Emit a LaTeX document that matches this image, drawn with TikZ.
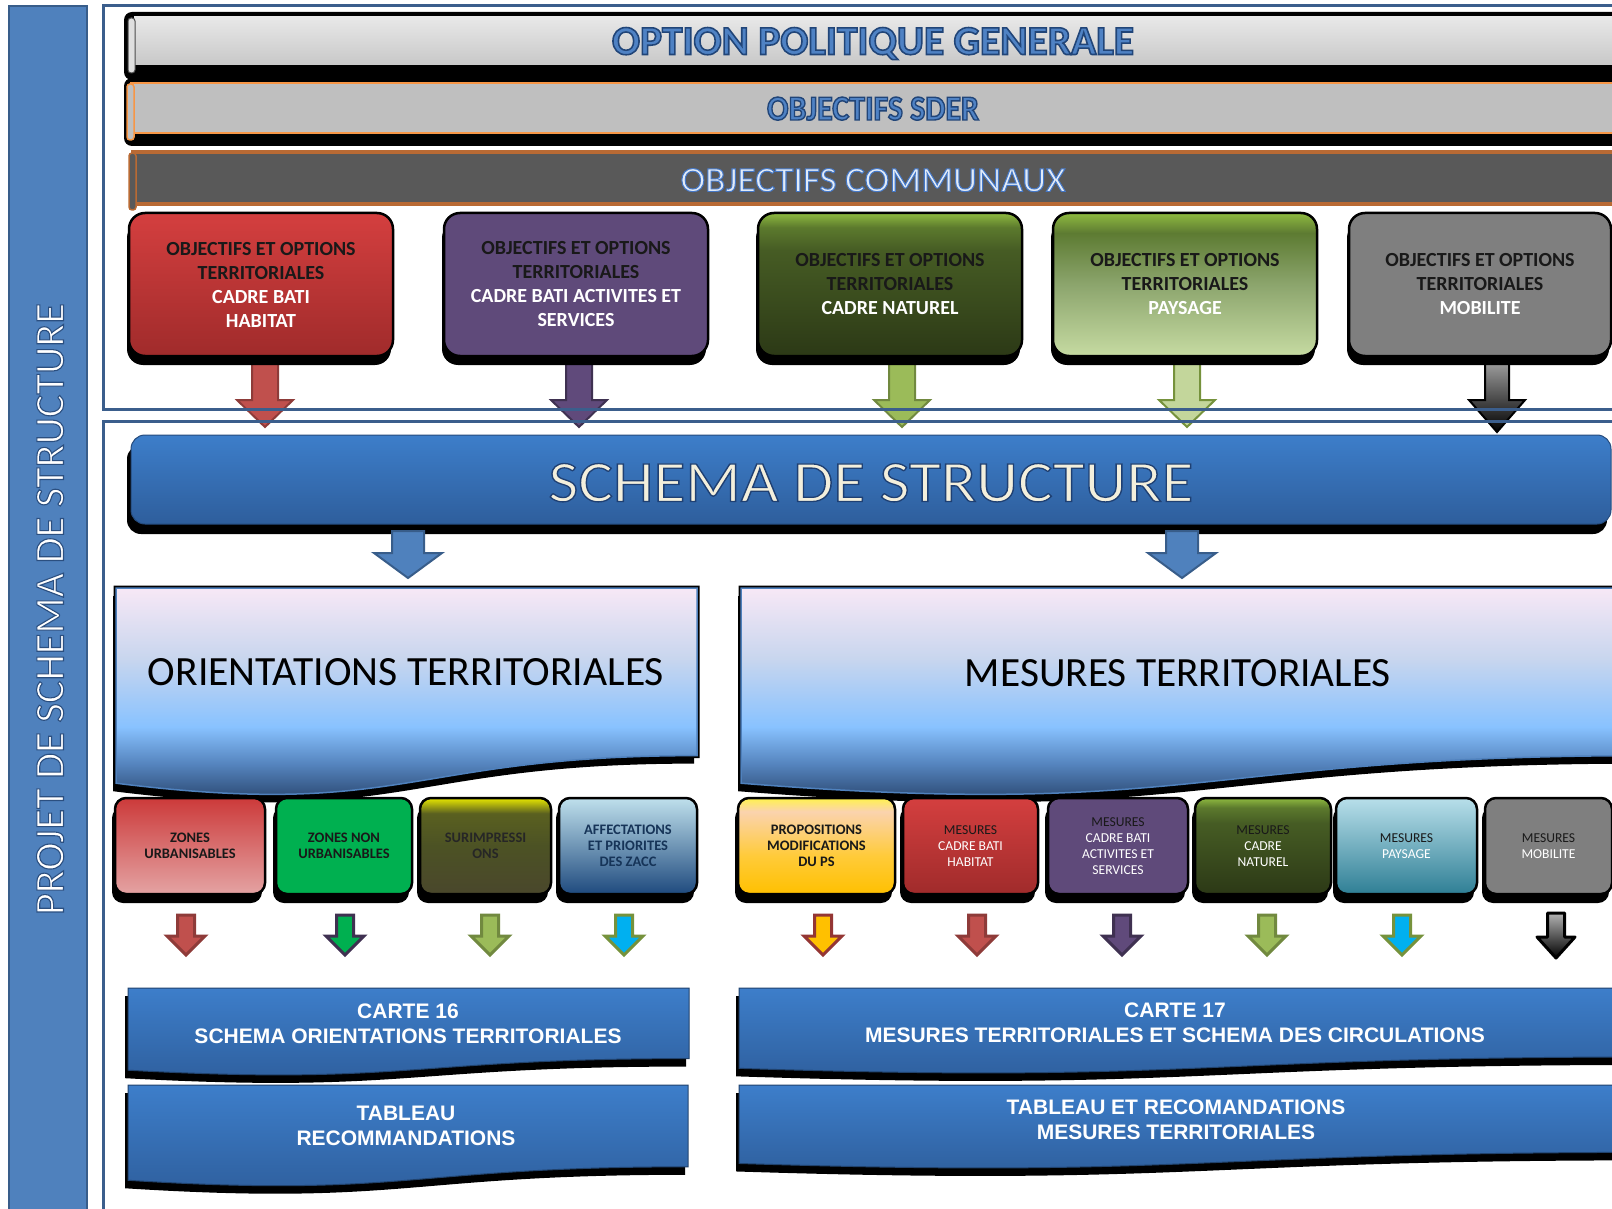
\documentclass[tikz,border=0pt]{standalone}
\usepackage{fontspec}
\usepackage{graphicx}
\setmainfont{Carlito}
\newfontfamily\arialf{Liberation Sans}
\usetikzlibrary{calc,shadows}

\definecolor{barblue}{HTML}{4F81BD}
\definecolor{barborder}{HTML}{385D8A}
\definecolor{frameblue}{HTML}{3B5E8C}
\definecolor{txtblue}{HTML}{4F82C4}
\definecolor{orangeb}{HTML}{F79646}
\definecolor{brownb}{HTML}{B96A34}
\definecolor{dgray}{HTML}{595959}
\definecolor{lgray}{HTML}{BFBFBF}
\definecolor{bandtop}{HTML}{E8E8E8}
\definecolor{bandbot}{HTML}{C8C8C8}
\definecolor{commtxt}{HTML}{E2EBF7}
\definecolor{cream}{HTML}{F3EFDC}
\definecolor{redtop}{HTML}{D43F3F}
\definecolor{redbot}{HTML}{A02B2B}
\definecolor{purp}{HTML}{5F4A7A}
\definecolor{grayb}{HTML}{7F7F7F}
\definecolor{zutop}{HTML}{CC3A3A}
\definecolor{zubot}{HTML}{E4A3A3}
\definecolor{zng}{HTML}{00B050}
\definecolor{aftop}{HTML}{BFE0EC}
\definecolor{afbot}{HTML}{1F4A7E}
\definecolor{paytop}{HTML}{B8DFEA}
\definecolor{paybot}{HTML}{2F7F95}
\definecolor{sstop}{HTML}{3D7ECA}
\definecolor{ssbot}{HTML}{2E5E9C}
\definecolor{arred}{HTML}{C0504D}
\definecolor{arredb}{HTML}{8E3B39}
\definecolor{arpurp}{HTML}{604A7B}
\definecolor{arpurpb}{HTML}{3F3151}
\definecolor{argreen}{HTML}{9BBB59}
\definecolor{argreenb}{HTML}{71893F}
\definecolor{arlgreen}{HTML}{C3D69B}
\definecolor{arlgreenb}{HTML}{76923C}
\definecolor{arcyan}{HTML}{00B0F0}
\definecolor{argold}{HTML}{FFC000}
\definecolor{argoldb}{HTML}{943634}
% custom shading colours
\definecolor{navyb}{HTML}{142848}
\definecolor{midb}{HTML}{5584BE}
\definecolor{skyb}{HTML}{88C2FF}
\definecolor{lavb}{HTML}{C9D6EE}
\definecolor{pinkb}{HTML}{F7E8F6}
\definecolor{dg1}{HTML}{8FBA40}
\definecolor{dg2}{HTML}{5C7A2D}
\definecolor{dg3}{HTML}{465C24}
\definecolor{dg4}{HTML}{2C3916}
\definecolor{lg2}{HTML}{5D7B32}
\definecolor{lg3}{HTML}{8CA56D}
\definecolor{lg4}{HTML}{C6DBA2}
\definecolor{sy1}{HTML}{E8E800}
\definecolor{sy2}{HTML}{5A6020}
\definecolor{sy3}{HTML}{4C5224}
\definecolor{sy4}{HTML}{4A472C}
\definecolor{ps1}{HTML}{FFF24D}
\definecolor{ps2}{HTML}{FBD3AE}
\definecolor{ps3}{HTML}{FFCB3A}
\definecolor{ps4}{HTML}{FFC000}

\pgfdeclareverticalshading{orientsh}{100bp}{color(0bp)=(navyb); color(25bp)=(navyb); color(37bp)=(midb); color(45bp)=(skyb); color(60bp)=(lavb); color(75bp)=(pinkb); color(100bp)=(pinkb)}
\pgfdeclareverticalshading{dgreensh}{100bp}{color(0bp)=(dg4); color(25bp)=(dg4); color(62bp)=(dg3); color(70bp)=(dg2); color(75bp)=(dg1); color(100bp)=(dg1)}
\pgfdeclareverticalshading{lgreensh}{100bp}{color(0bp)=(lg4); color(25bp)=(lg4); color(50bp)=(lg3); color(68bp)=(lg2); color(75bp)=(dg1); color(100bp)=(dg1)}
\pgfdeclareverticalshading{surimpsh}{100bp}{color(0bp)=(sy4); color(25bp)=(sy4); color(50bp)=(sy3); color(67bp)=(sy2); color(75bp)=(sy1); color(100bp)=(sy1)}
\pgfdeclareverticalshading{propsh}{100bp}{color(0bp)=(ps4); color(25bp)=(ps4); color(45bp)=(ps3); color(68bp)=(ps2); color(75bp)=(ps1); color(100bp)=(ps1)}

% outlined text (fill in current colour, stroke colour #1 as "r g b", width #2)
\newcommand\outl[3]{\special{pdf:literal direct #1 RG #2 w 2 Tr}#3\special{pdf:literal direct 0 Tr}}

% block arrow: #1 style, #2 start, #3 end, #4 shaft half width, #5 head half width, #6 head length
\newcommand\blockarrow[6]{%
  \path[#1] let \p1=(#2), \p2=(#3) in
    (\x1-#4,\y1) -- (\x1+#4,\y1) -- (\x1+#4,\y2+#6) -- (\x1+#5,\y2+#6)
    -- (\x1,\y2) -- (\x1-#5,\y2+#6) -- (\x1-#4,\y2+#6) -- cycle;}

% document shape: #1 x0, #2 y0, #3 x1, #4 h
\newcommand\docshape[4]{(#1,#2) -- (#3,#2) -- (#3,{#2+0.802*#4})
  .. controls ({(#1+#3)/2},{#2+0.802*#4}) and ({(#1+#3)/2},{#2+1.1075*#4}) .. (#1,{#2+0.934*#4}) -- cycle}

\tikzset{
  topbox/.style={rounded corners=16, draw=black, line width=2.5, minimum width=264,
    minimum height=143, align=center, inner sep=2, text=black!90,
    font=\bfseries\fontsize{20}{24}\selectfont,
    drop shadow={shadow xshift=-2pt, shadow yshift=-9pt, opacity=1, fill=black}},
  smallbox/.style={rounded corners=11, draw=black, line width=2.5, minimum height=96,
    align=center, inner sep=1, text=black!90, font=\fontsize{13.6}{16}\selectfont,
    drop shadow={shadow xshift=-3pt, shadow yshift=-9pt, opacity=1, fill=black}},
  boldsmall/.style={font=\bfseries\fontsize{14.5}{16}\selectfont},
  bigtxt/.style={anchor=base, inner sep=0},
  btext/.style={align=center, text=white, font=\arialf\bfseries\fontsize{21}{25}\selectfont},
  framel/.style={draw=frameblue, line width=3},
  toparrow/.style={line width=2, line join=miter},
  smallarrow/.style={line width=3, line join=miter},
}

\begin{document}
\begin{tikzpicture}[x=1pt,y=-1pt]
\useasboundingbox (0,0) rectangle (1612,1209);
\clip (0,0) rectangle (1612,1209);
\fill[white] (0,0) rectangle (1612,1209);

% ---------- left bar
\filldraw[fill=barblue, draw=barborder, line width=2.5] (9,6) rectangle (87,1225);
\node[bigtxt, rotate=90, text=white] (bartitle) at (63.5,609)
  {\resizebox{612pt}{27pt}{\fontsize{42}{42}\selectfont\outl{0.17 0.31 0.50}{1.1}{PROJET DE SCHEMA DE STRUCTURE}}};

% ---------- top block arrows (drawn before frames)
\coordinate (ta1) at (265,350); \coordinate (tb1) at (265,427);
\coordinate (ta2) at (579,350); \coordinate (tb2) at (579,427);
\coordinate (ta3) at (902,350); \coordinate (tb3) at (902,427);
\coordinate (ta4) at (1187,350); \coordinate (tb4) at (1187,427);
\coordinate (ta5) at (1497,350); \coordinate (tb5) at (1497,432);
\blockarrow{toparrow, fill=arred, draw=arredb}{ta1}{tb1}{13pt}{28pt}{27pt}
\blockarrow{toparrow, fill=arpurp, draw=arpurpb}{ta2}{tb2}{13pt}{28pt}{27pt}
\blockarrow{toparrow, fill=argreen, draw=argreenb}{ta3}{tb3}{13pt}{28pt}{27pt}
\blockarrow{toparrow, fill=arlgreen, draw=arlgreenb}{ta4}{tb4}{13pt}{28pt}{27pt}
\blockarrow{toparrow, top color=gray!55, bottom color=black, draw=black}{ta5}{tb5}{12pt}{28pt}{32pt}

% ---------- frames
\draw[framel] (103,6) rectangle (1640,409);
\draw[framel] (103,421) rectangle (1640,1240);

% ---------- band 1
\fill[black, rounded corners=8] (124,12) rectangle (1640,80);
\shade[top color=bandtop, bottom color=bandbot] (134,17) rectangle (1640,65);
\filldraw[fill=gray!25, draw=black!70, line width=1, rounded corners=3] (128,18) rectangle (135,73);
\node[bigtxt, text=txtblue] (opg) at (873,54.5)
  {\resizebox{522pt}{27pt}{\bfseries\fontsize{42}{42}\selectfont\outl{0.13 0.27 0.47}{1.6}{OPTION POLITIQUE GENERALE}}};

% ---------- band 2
\fill[black, rounded corners=8] (124,78) rectangle (1640,146);
\filldraw[fill=lgray, draw=orangeb, line width=2.5] (131,83) rectangle (1640,133);
\filldraw[fill=lgray, draw=orangeb, line width=1.5, rounded corners=3] (127,84) rectangle (134,140);
\node[bigtxt, text=txtblue] (sder) at (873,120)
  {\resizebox{212pt}{23pt}{\bfseries\fontsize{36}{36}\selectfont\outl{0.13 0.27 0.47}{1.5}{OBJECTIFS SDER}}};

% ---------- band 3
\filldraw[fill=dgray, draw=brownb, line width=3.5] (133,152) rectangle (1640,204);
\filldraw[fill=dgray, draw=brownb, line width=1.5, rounded corners=3] (129,153) rectangle (136,210);
\node[bigtxt, text=commtxt] (comm) at (873,191.5)
  {\resizebox{385pt}{23pt}{\fontsize{36}{36}\selectfont\outl{0.27 0.47 0.78}{1.0}{OBJECTIFS COMMUNAUX}}};

% ---------- top boxes
\node[topbox, top color=redtop, bottom color=redbot] (t1) at (261,284.5)
  {OBJECTIFS ET OPTIONS\\TERRITORIALES\\\textcolor{white}{CADRE BATI}\\\textcolor{white}{HABITAT}};
\node[topbox, fill=purp] (t2) at (576,284.5)
  {OBJECTIFS ET OPTIONS\\TERRITORIALES\\\textcolor{white}{CADRE BATI ACTIVITES ET}\\\textcolor{white}{SERVICES}};
\node[topbox, shade, shading=dgreensh] (t3) at (890,284.5)
  {OBJECTIFS ET OPTIONS\\TERRITORIALES\\\textcolor{white}{CADRE NATUREL}};
\node[topbox, shade, shading=lgreensh] (t4) at (1185,284.5)
  {OBJECTIFS ET OPTIONS\\TERRITORIALES\\\textcolor{white}{PAYSAGE}};
\node[topbox, fill=grayb, minimum width=262] (t5) at (1480,284.5)
  {OBJECTIFS ET OPTIONS\\TERRITORIALES\\\textcolor{white}{MOBILITE}};

% ---------- schema de structure band
\node[rounded corners=14, top color=sstop, bottom color=ssbot, draw=ssbot!80!black, line width=1,
  minimum width=1480, minimum height=89, inner sep=0,
  drop shadow={shadow xshift=-4pt, shadow yshift=-10pt, opacity=1, fill=black}] (ss) at (871,479.5) {};
\node[bigtxt, text=cream] (sstxt) at (871,501.5)
  {\resizebox{645pt}{38pt}{\fontsize{59}{59}\selectfont\outl{0.12 0.25 0.45}{1.3}{SCHEMA DE STRUCTURE}}};

% ---------- blue arrows
\coordinate (ba1) at (408,531); \coordinate (bb1) at (408,578);
\coordinate (ba2) at (1182,531); \coordinate (bb2) at (1182,578);
\blockarrow{toparrow, fill=barblue, draw=barborder}{ba1}{bb1}{16pt}{34pt}{25pt}
\blockarrow{toparrow, fill=barblue, draw=barborder}{ba2}{bb2}{16pt}{34pt}{25pt}

% ---------- orientation / mesures boxes
\fill[black, shift={(-3,8)}] \docshape{116}{588}{697}{209};
\draw[black, line width=5] \docshape{116}{588}{697}{209};
\shade[shading=orientsh, draw=barblue, line width=1.5] \docshape{116}{588}{697}{209};
\node[bigtxt] (orient) at (406,685)
  {\resizebox{516pt}{27pt}{ORIENTATIONS TERRITORIALES}};

\fill[black, shift={(-3,8)}] \docshape{741}{588}{1650}{209};
\draw[black, line width=5] \docshape{741}{588}{1650}{209};
\shade[shading=orientsh, draw=barblue, line width=1.5] \docshape{741}{588}{1650}{209};
\node[bigtxt] (mesures) at (1178,686)
  {\resizebox{426pt}{27pt}{MESURES TERRITORIALES}};

% ---------- small boxes (left group)
\node[smallbox, boldsmall, top color=zutop, bottom color=zubot, minimum width=150] (s1) at (190,846)
  {ZONES\\URBANISABLES};
\node[smallbox, boldsmall, fill=zng, minimum width=136] (s2) at (344,846)
  {ZONES NON\\URBANISABLES};
\node[smallbox, boldsmall, shade, shading=surimpsh, minimum width=131, text=black!85] (s3) at (485.5,846)
  {SURIMPRESSI\\ONS};
\node[smallbox, boldsmall, top color=aftop, bottom color=afbot, minimum width=138, text=afbot!70!black] (s4) at (628,846)
  {AFFECTATIONS\\ET PRIORITES\\DES ZACC};

% ---------- small boxes (right group)
\node[smallbox, boldsmall, shade, shading=propsh, minimum width=157] (r1) at (816.5,846)
  {PROPOSITIONS\\MODIFICATIONS\\DU PS};
\node[smallbox, top color=redtop, bottom color=redbot, minimum width=135] (r2) at (970.5,846)
  {MESURES\\\textcolor{white}{CADRE BATI}\\\textcolor{white}{HABITAT}};
\node[smallbox, fill=purp, minimum width=140] (r3) at (1118,846)
  {MESURES\\\textcolor{white}{CADRE BATI}\\\textcolor{white}{ACTIVITES ET}\\\textcolor{white}{SERVICES}};
\node[smallbox, shade, shading=dgreensh, minimum width=136] (r4) at (1263,846)
  {MESURES\\\textcolor{white}{CADRE}\\\textcolor{white}{NATUREL}};
\node[smallbox, top color=paytop, bottom color=paybot, minimum width=141] (r5) at (1406.5,846)
  {MESURES\\\textcolor{white}{PAYSAGE}};
\node[smallbox, fill=grayb, minimum width=127] (r6) at (1548.5,846)
  {MESURES\\\textcolor{white}{MOBILITE}};

% ---------- small arrows
\coordinate (sa1) at (186,915);  \coordinate (sb1) at (186,955);
\coordinate (sa2) at (345,915);  \coordinate (sb2) at (345,955);
\coordinate (sa3) at (490,915);  \coordinate (sb3) at (490,955);
\coordinate (sa4) at (624,915);  \coordinate (sb4) at (624,955);
\coordinate (sa5) at (823,915);  \coordinate (sb5) at (823,955);
\coordinate (sa6) at (977,915);  \coordinate (sb6) at (977,955);
\coordinate (sa7) at (1122,915); \coordinate (sb7) at (1122,955);
\coordinate (sa8) at (1267,915); \coordinate (sb8) at (1267,955);
\coordinate (sa9) at (1402,915); \coordinate (sb9) at (1402,955);
\coordinate (sa10) at (1556,913); \coordinate (sb10) at (1556,958);
\blockarrow{smallarrow, fill=arred, draw=arredb}{sa1}{sb1}{8.5pt}{19pt}{19pt}
\blockarrow{smallarrow, fill=zng, draw=arpurpb}{sa2}{sb2}{8.5pt}{19pt}{19pt}
\blockarrow{smallarrow, fill=argreen, draw=argreenb}{sa3}{sb3}{8.5pt}{19pt}{19pt}
\blockarrow{smallarrow, fill=arcyan, draw=arlgreenb}{sa4}{sb4}{8.5pt}{19pt}{19pt}
\blockarrow{smallarrow, fill=argold, draw=argoldb}{sa5}{sb5}{8.5pt}{19pt}{19pt}
\blockarrow{smallarrow, fill=arred, draw=arredb}{sa6}{sb6}{8.5pt}{19pt}{19pt}
\blockarrow{smallarrow, fill=arpurp, draw=arpurpb}{sa7}{sb7}{8.5pt}{19pt}{19pt}
\blockarrow{smallarrow, fill=argreen, draw=argreenb}{sa8}{sb8}{8.5pt}{19pt}{19pt}
\blockarrow{smallarrow, fill=arcyan, draw=arlgreenb}{sa9}{sb9}{8.5pt}{19pt}{19pt}
\blockarrow{smallarrow, top color=gray!60, bottom color=black, draw=black, line join=round}{sa10}{sb10}{8.5pt}{19pt}{21pt}

% ---------- bottom boxes
\fill[black, shift={(-3,8)}] \docshape{128}{988}{689}{88};
\shade[top color=sstop, bottom color=ssbot, draw=ssbot!70!black, line width=1] \docshape{128}{988}{689}{88};
\node[btext] (c16) at (408,1024) {CARTE 16\\SCHEMA ORIENTATIONS TERRITORIALES};

\fill[black, shift={(-3,8)}] \docshape{128}{1085}{688}{102};
\shade[top color=sstop, bottom color=ssbot, draw=ssbot!70!black, line width=1] \docshape{128}{1085}{688}{102};
\node[btext] (t16) at (406,1126) {TABLEAU\\RECOMMANDATIONS};

\fill[black, shift={(-3,8)}] \docshape{739}{988}{1650}{86};
\shade[top color=sstop, bottom color=ssbot, draw=ssbot!70!black, line width=1] \docshape{739}{988}{1650}{86};
\node[btext] (c17) at (1175,1023) {CARTE 17\\MESURES TERRITORIALES ET SCHEMA DES CIRCULATIONS};

\fill[black, shift={(-3,8)}] \docshape{739}{1085}{1650}{84};
\shade[top color=sstop, bottom color=ssbot, draw=ssbot!70!black, line width=1] \docshape{739}{1085}{1650}{84};
\node[btext] (t17) at (1176,1120) {TABLEAU ET RECOMANDATIONS\\MESURES TERRITORIALES};

\end{tikzpicture}
\end{document}
